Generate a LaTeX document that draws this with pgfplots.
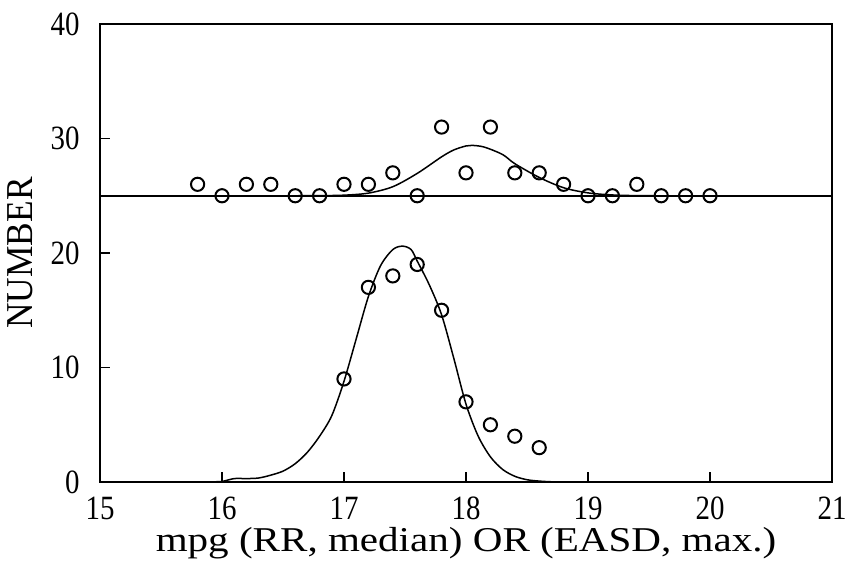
\documentclass[border=0pt]{standalone}
\usepackage{fontspec}
\setmainfont{Liberation Serif}
\newfontfamily\tickfont[FakeStretch=0.85]{Liberation Serif}
\newfontfamily\ylabfont[FakeStretch=0.93]{Liberation Serif}
\newfontfamily\xlabfont[FakeStretch=1.18]{Liberation Serif}
\usepackage{pgfplots}
\pgfplotsset{compat=1.18}
\usetikzlibrary{calc}

\begin{document}
\begin{tikzpicture}
\begin{axis}[name=ax, scale only axis, width=366pt, height=229pt,
  xmin=15, xmax=21, ymin=0, ymax=40,
  xtick={15,16,...,21}, ytick={0,10,...,40},
  xtick pos=bottom, ytick pos=left, tick align=inside,
  major tick length=5pt,
  /pgf/number format/assume math mode=true,
  tick label style={font=\tickfont\fontsize{17}{19}\selectfont, inner sep=0pt},
  xticklabel style={anchor=base, yshift=-18.5pt},
  yticklabel style={anchor=east, xshift=-10pt},
  xlabel={mpg (RR, median) OR (EASD, max.)},
  ylabel={NUMBER},
  xlabel style={font=\xlabfont\fontsize{17.4}{19}\selectfont, inner sep=0pt, anchor=base,
    at={(axis description cs:0.5,-0.1507)}},
  ylabel style={font=\ylabfont\fontsize{19}{21}\selectfont, inner sep=0pt, anchor=south,
    at={(axis description cs:-0.0915,0.5)}},
  axis line style={line width=0.8pt}, tick style={line width=0.8pt, black},
  clip=false]
% baseline
\addplot[black, line width=0.75pt] coordinates {(15,25) (21,25)};
% upper fitted curve
\addplot[black, line width=0.75pt, smooth] coordinates {
 (16.6,25.0) (16.8,25.01) (17.0,25.05) (17.2,25.23) (17.4,25.79) (17.6,26.95)
 (17.8,28.4) (17.9,29.0) (18.0,29.35) (18.05,29.4) (18.15,29.25) (18.3,28.6)
 (18.4,27.8) (18.6,26.6) (18.8,25.7) (19.0,25.25) (19.2,25.07) (19.4,25.01) (19.6,25.0)};
% upper data
\addplot[only marks, mark=o, mark size=3.3pt, line width=1pt, black] coordinates {
 (15.8,26) (16.0,25) (16.2,26) (16.4,26) (16.6,25) (16.8,25) (17.0,26) (17.2,26)
 (17.4,27) (17.6,25) (17.8,31) (18.0,27) (18.2,31) (18.4,27) (18.6,27) (18.8,26)
 (19.0,25) (19.2,25) (19.4,26) (19.6,25) (19.8,25) (20.0,25)};
% lower fitted curve
\addplot[black, line width=0.75pt, smooth] coordinates {
 (15.75,0) (15.9,0.02) (16.0,0.05) (16.1,0.3) (16.2,0.3) (16.3,0.35) (16.4,0.6)
 (16.5,0.95) (16.6,1.6) (16.7,2.6) (16.8,4.0) (16.9,5.8) (17.0,8.8) (17.1,12.5)
 (17.2,16.2) (17.3,18.9) (17.4,20.3) (17.48,20.6) (17.55,20.3) (17.6,19.3)
 (17.7,17.2) (17.8,14.6) (17.9,10.8) (18.0,6.8) (18.1,4.0) (18.2,2.2) (18.3,1.1)
 (18.4,0.5) (18.5,0.2) (18.6,0.08) (18.7,0.02) (18.8,0) (19.2,0)};
% lower data
\addplot[only marks, mark=o, mark size=3.3pt, line width=1pt, black] coordinates {
 (17.0,9) (17.2,17) (17.4,18) (17.6,19) (17.8,15) (18.0,7) (18.2,5) (18.4,4) (18.6,3)};
\end{axis}
\pgfresetboundingbox
\useasboundingbox ($(ax.south west)+(-50pt,-43pt)$) rectangle ($(ax.north east)+(9pt,12pt)$);
\end{tikzpicture}
\end{document}
